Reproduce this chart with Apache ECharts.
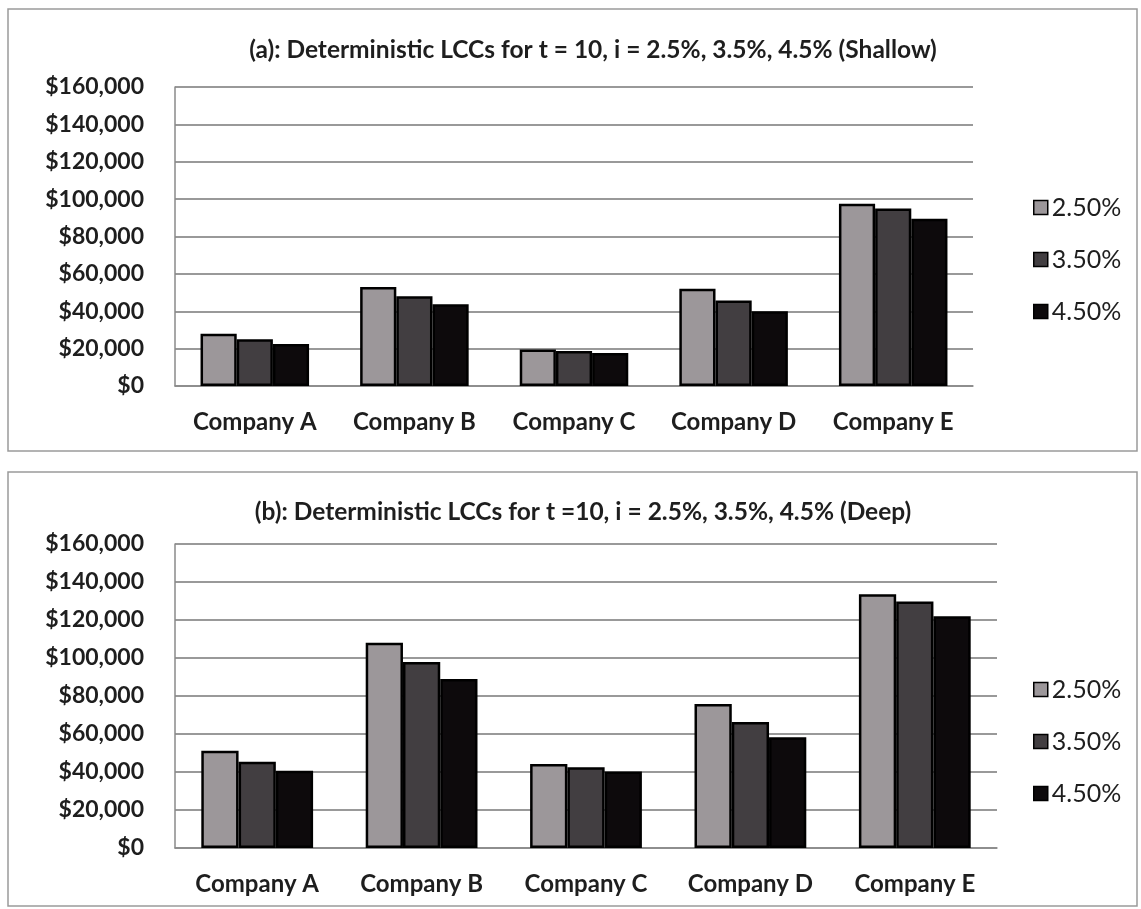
<!DOCTYPE html>
<html>
<head>
<meta charset="utf-8">
<script src="https://cdn.jsdelivr.net/npm/echarts@6/dist/echarts.min.js"></script>
<style>
html,body{margin:0;padding:0;background:#fff;}
#c{width:1141px;height:909px;}
</style>
</head>
<body>
<div id="c"></div>
<script>
const categories = ['Company A', 'Company B', 'Company C', 'Company D', 'Company E'];
const seriesNames = ['2.50%', '3.50%', '4.50%'];
const titleA = '(a): Deterministic LCCs for t = 10, i = 2.5%, 3.5%, 4.5% (Shallow)';
const titleB = '(b): Deterministic LCCs for t =10, i = 2.5%, 3.5%, 4.5% (Deep)';
// Shallow (a)
const shallow25 = [28000, 53000, 19500, 52000, 97500];
const shallow35 = [25000, 48000, 18700, 45800, 95000];
const shallow45 = [22500, 43800, 17700, 40000, 89500];
// Deep (b)
const deep25 = [51200, 108000, 44200, 75800, 133500];
const deep35 = [45400, 97900, 42500, 66300, 129800];
const deep45 = [40700, 88900, 40300, 58300, 122000];
const yTicks = { min: 0, max: 160000, interval: 20000 };

const colors = ['#9c979a', '#423e41', '#0d0a0c'];
const font = 'Lato';
const textColor = '#1e1e1e';

function yAxis(gi) {
  return {
    type: 'value', gridIndex: gi, min: yTicks.min, max: yTicks.max, interval: yTicks.interval,
    axisLine: { show: true, lineStyle: { color: '#8a8a8a', width: 1.5 } },
    axisTick: { show: false },
    splitLine: { lineStyle: { color: '#777', width: 1.5 } },
    axisLabel: {
      margin: 31, fontFamily: font, fontWeight: 'bold', fontSize: 23, color: textColor,
      formatter: v => '$' + v.toLocaleString('en-US')
    }
  };
}
function xAxis(gi) {
  return {
    type: 'category', gridIndex: gi, data: categories,
    axisLine: { show: true, lineStyle: { color: '#8a8a8a', width: 1.5 } },
    axisTick: { show: false },
    axisLabel: { interval: 0, hideOverlap: false, margin: 24, fontFamily: font, fontWeight: 'bold', fontSize: 24, color: textColor }
  };
}
function bar(name, data, gi, ci) {
  return {
    type: 'bar', name: name, data: data, xAxisIndex: gi, yAxisIndex: gi,
    barGap: '0%', barCategoryGap: '32%',
    itemStyle: { color: colors[ci], borderColor: '#000', borderWidth: 2.5 }
  };
}
function legend(top) {
  return {
    data: seriesNames, orient: 'vertical', left: 1033, top: top, padding: 0,
    itemWidth: 14, itemHeight: 14, itemGap: 27, icon: 'rect',
    textStyle: { fontFamily: font, fontSize: 25, color: textColor, padding: [0, 0, 0, -1] },
    itemStyle: { borderColor: '#000', borderWidth: 1.5 },
    selectedMode: false
  };
}

const chart = echarts.init(document.getElementById('c'));
chart.setOption({
  backgroundColor: '#fff',
  animation: false,
  title: [
    { text: titleA, left: 588, textAlign: 'center', top: 33, textStyle: { fontFamily: font, fontWeight: 'bold', fontSize: 24.5, color: textColor } },
    { text: titleB, left: 578, textAlign: 'center', top: 495, textStyle: { fontFamily: font, fontWeight: 'bold', fontSize: 24.5, color: textColor } }
  ],
  legend: [legend(195), legend(677)],
  grid: [
    { left: 175, top: 87, width: 798, height: 299 },
    { left: 175, top: 544, width: 822, height: 304 }
  ],
  xAxis: [xAxis(0), xAxis(1)],
  yAxis: [yAxis(0), yAxis(1)],
  graphic: [
    { type: 'rect', shape: { x: 8, y: 9, width: 1129, height: 442 }, style: { fill: 'none', stroke: '#9a9a9a', lineWidth: 1.5 } },
    { type: 'rect', shape: { x: 8, y: 472, width: 1129, height: 434 }, style: { fill: 'none', stroke: '#9a9a9a', lineWidth: 1.5 } }
  ],
  series: [
    bar(seriesNames[0], shallow25, 0, 0),
    bar(seriesNames[1], shallow35, 0, 1),
    bar(seriesNames[2], shallow45, 0, 2),
    bar(seriesNames[0], deep25, 1, 0),
    bar(seriesNames[1], deep35, 1, 1),
    bar(seriesNames[2], deep45, 1, 2)
  ]
});
</script>
</body>
</html>
